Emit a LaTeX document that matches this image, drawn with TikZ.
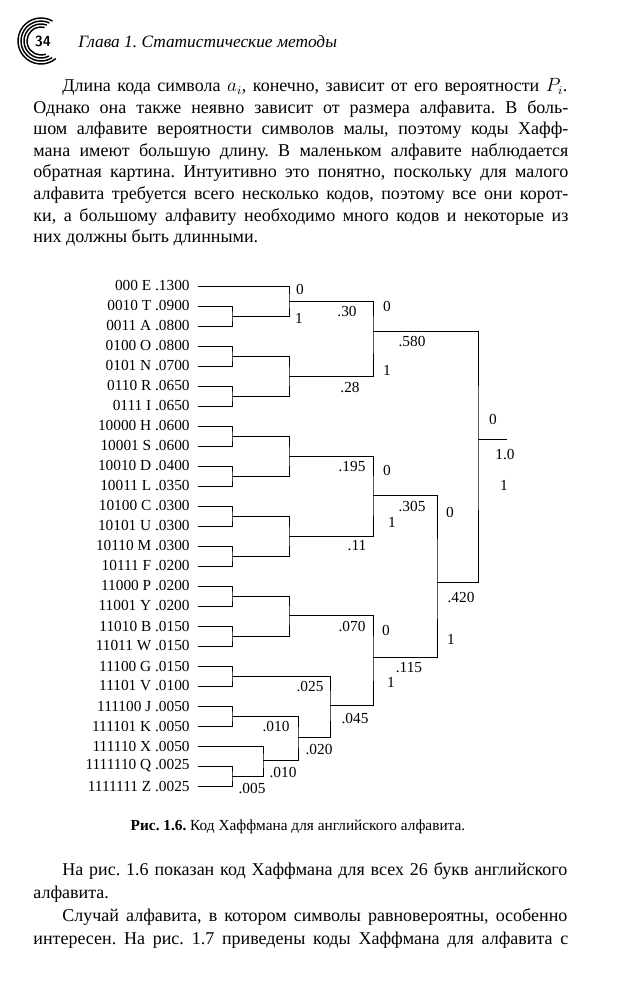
\documentclass[tikz,border=0pt]{standalone}
\usepackage{fontspec}
\setmainfont{Liberation Serif}
\usetikzlibrary{positioning, calc}
\frenchspacing

\begin{document}
\begin{tikzpicture}[x=0.75pt, y=-0.75pt, line width=0.6pt,
  leaf/.style={anchor=east, inner xsep=6pt, inner ysep=0pt,
               font=\fontsize{11.5}{13}\selectfont},
  num/.style={inner sep=0pt, font=\fontsize{11.5}{13}\selectfont},
  bit/.style={num},
  txt/.style={anchor=base west, inner sep=0pt, font=\fontsize{13.5}{16}\selectfont},
  swirl/.style={line width=1.1pt}]
  \fill[white] (0,0) rectangle (630,990);
  \useasboundingbox (0,0) rectangle (630,990);

  % running head
  \foreach \r/\s/\e in {14/70/285, 17/62/290, 20/56/295, 23/50/300}
    \draw[swirl] (41,41) ++(\s:\r) arc[start angle=\s, end angle=\e, radius=\r];
  \node[inner sep=0pt, font=\sffamily\bfseries\fontsize{11}{12}\selectfont] (pagenum) at (43,41) {34};
  \node[anchor=base west, inner sep=0pt, font=\itshape\fontsize{13}{15}\selectfont]
    (head) at (78,47) {Глава 1. Статистические методы};

  % first paragraph
  \node[txt] (p1) at (62,91.5) {\makebox[378.75pt][s]{Длина кода символа $a_i$, конечно, зависит от его вероятности $P_i$.}};
  \node[txt] (p2) at (33,113.1) {\makebox[401.25pt][s]{Однако она также неявно зависит от размера алфавита. В боль-}};
  \node[txt] (p3) at (33,134.7) {\makebox[401.25pt][s]{шом алфавите вероятности символов малы, поэтому коды Хафф-}};
  \node[txt] (p4) at (33,156.3) {\makebox[401.25pt][s]{мана имеют большую длину. В маленьком алфавите наблюдается}};
  \node[txt] (p5) at (33,177.9) {\makebox[401.25pt][s]{обратная картина. Интуитивно это понятно, поскольку для малого}};
  \node[txt] (p6) at (33,199.5) {\makebox[401.25pt][s]{алфавита требуется всего несколько кодов, поэтому все они корот-}};
  \node[txt] (p7) at (33,221.1) {\makebox[401.25pt][s]{ки, а большому алфавиту необходимо много кодов и некоторые из}};
  \node[txt] (p8) at (33,242.7) {них должны быть длинными.};

  % leaves
  \foreach \code/\sym/\p [count=\i from 0] in {000/E/.1300, 0010/T/.0900, 0011/A/.0800,
      0100/O/.0800, 0101/N/.0700, 0110/R/.0650, 0111/I/.0650, 10000/H/.0600,
      10001/S/.0600, 10010/D/.0400, 10011/L/.0350, 10100/C/.0300, 10101/U/.0300,
      10110/M/.0300, 10111/F/.0200, 11000/P/.0200, 11001/Y/.0200, 11010/B/.0150,
      11011/W/.0150, 11100/G/.0150, 11101/V/.0100, 111100/J/.0050, 111101/K/.0050,
      111110/X/.0050, 1111110/Q/.0025, 1111111/Z/.0025}
    \node[leaf] (\sym) at (198,{286+20*\i}) {\code\ \sym\ \p};

  % first level pairs
  \foreach \a/\b/\y in {T/A/316, O/N/356, R/I/396, H/S/436, D/L/476, C/U/516,
      M/F/556, P/Y/596, B/W/636, G/V/676, J/K/716, Q/Z/776} {
    \coordinate (\a\b) at (232,\y);
    \draw (\a.east) -| (\a\b) |- (\b.east);
  }

  % upper joins
  \coordinate (n30) at (289,301);
  \coordinate (n28) at (289,376);
  \coordinate (n580) at (373,331);
  \coordinate (n195) at (289,456);
  \coordinate (n11) at (289,536);
  \coordinate (n305) at (373,495);
  \coordinate (n070) at (289,615);
  \coordinate (nXQZ) at (263,760);
  \coordinate (n020) at (298,737);
  \coordinate (n045) at (330,705);
  \coordinate (n115) at (373,657);
  \coordinate (n420) at (437,582);
  \coordinate (root) at (478,439);
  \coordinate (rootend) at (507,439);

  \draw (E.east) -| (n30) |- (TA);
  \draw (ON) -| (n28) |- (RI);
  \draw (n30) -| (n580) |- (n28);
  \draw (HS) -| (n195) |- (DL);
  \draw (CU) -| (n11) |- (MF);
  \draw (n195) -| (n305) |- (n11);
  \draw (PY) -| (n070) |- (BW);
  \draw (X.east) -| (nXQZ) |- (QZ);
  \draw (JK) -| (n020) |- (nXQZ);
  \draw (GV) -| (n045) |- (n020);
  \draw (n070) -| (n115) |- (n045);
  \draw (n305) -| (n420) |- (n115);
  \draw (n580) -| (root) |- (n420);
  \draw (root) -- (rootend);

  % weights
  \node[num] (v30) at (347,312) {.30};
  \node[num] (v28) at (350,388) {.28};
  \node[num] (v580) at (412,342) {.580};
  \node[num] (v195) at (352,467) {.195};
  \node[num] (v11) at (357,546) {.11};
  \node[num] (v305) at (412,507) {.305};
  \node[num] (v420) at (461,597) {.420};
  \node[num] (v070) at (352,626) {.070};
  \node[num] (v115) at (409,668) {.115};
  \node[num] (v025) at (310,686) {.025};
  \node[num] (v045) at (355,718) {.045};
  \node[num] (v010a) at (276,726) {.010};
  \node[num] (v020) at (319,749) {.020};
  \node[num] (v010b) at (283,772) {.010};
  \node[num] (v005) at (252,788) {.005};
  \node[num] (v10) at (505,455) {1.0};

  % branch bits
  \node[bit] (b1) at (300,289) {0};
  \node[bit] (b2) at (299,318) {1};
  \node[bit] (b3) at (387,306) {0};
  \node[bit] (b4) at (387,370) {1};
  \node[bit] (b5) at (493,419) {0};
  \node[bit] (b6) at (504,485) {1};
  \node[bit] (b7) at (387,470) {0};
  \node[bit] (b8) at (392,522) {1};
  \node[bit] (b9) at (450,512) {0};
  \node[bit] (b10) at (451,639) {1};
  \node[bit] (b11) at (386,630) {0};
  \node[bit] (b12) at (391,682) {1};

  % caption
  \node[anchor=base, inner sep=0pt, font=\fontsize{11.5}{13}\selectfont] (caption) at (298,830)
    {\textbf{Рис. 1.6.} Код Хаффмана для английского алфавита.};

  % second paragraph
  \node[txt] (q1) at (62,875) {\makebox[378.75pt][s]{На рис. 1.6 показан код Хаффмана для всех 26 букв английского}};
  \node[txt] (q2) at (33,898) {алфавита.};
  \node[txt] (q3) at (62,921) {\makebox[378.75pt][s]{Случай алфавита, в котором символы равновероятны, особенно}};
  \node[txt] (q4) at (33,944) {\makebox[401.25pt][s]{интересен. На рис. 1.7 приведены коды Хаффмана для алфавита с}};
\end{tikzpicture}
\end{document}
